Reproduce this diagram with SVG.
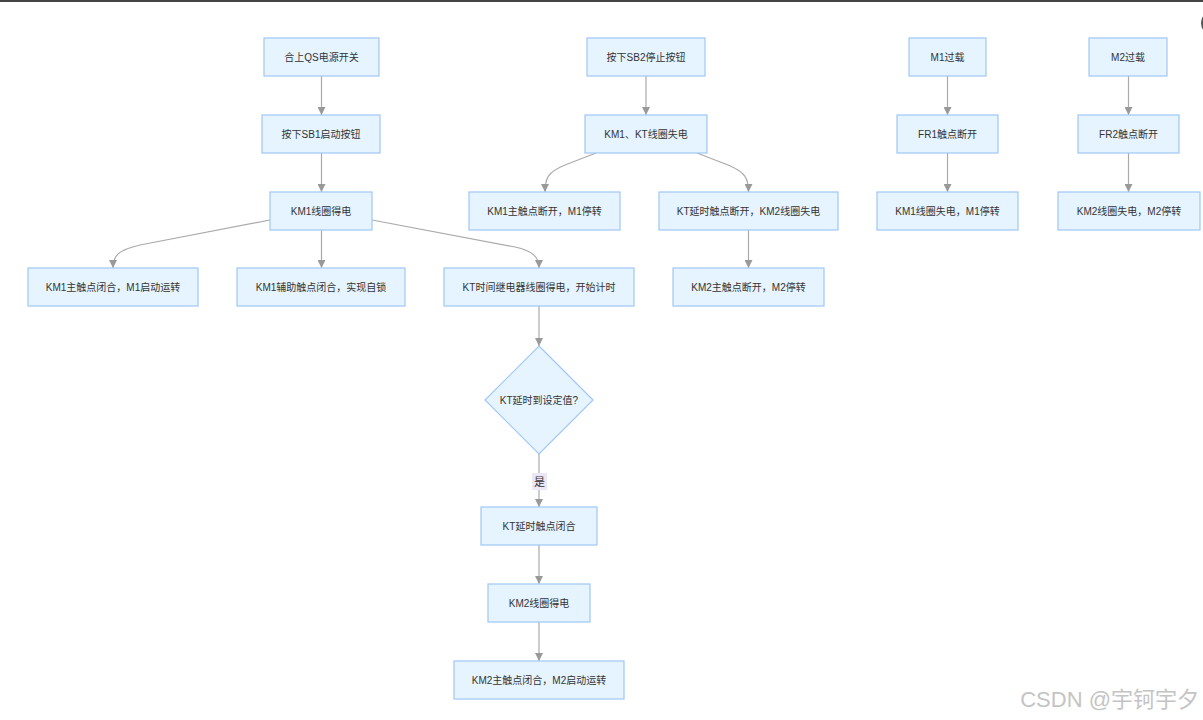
<svg xmlns="http://www.w3.org/2000/svg" width="1203" height="720" viewBox="0 0 1203 720">
<defs>
<marker id="arr" viewBox="0 0 10 10" refX="10" refY="5" markerWidth="8" markerHeight="8" markerUnits="userSpaceOnUse" orient="auto">
<path d="M0,0 L10,5 L0,10 z" fill="#999"/>
</marker>
<style>
.n rect, .n polygon { fill:#e6f4ff; stroke:#a0c6f7; stroke-width:1.2; }
.n text { font-family:"Liberation Sans","Noto Sans CJK SC",sans-serif; font-size:10px; fill:#333; text-anchor:middle; dominant-baseline:central; }
.e path { fill:none; stroke:#aaa; stroke-width:1.2; marker-end:url(#arr); }
.lbl text { font-family:"Liberation Sans","Noto Sans CJK SC",sans-serif; font-size:11px; fill:#333; text-anchor:middle; dominant-baseline:central; }
</style>
</defs>
<rect x="0" y="0" width="1203" height="720" fill="#fff"/>
<line x1="0" y1="1" x2="1203" y2="1" stroke="#444" stroke-width="2"/>
<circle cx="1213" cy="23" r="12" fill="#555"/>

<g id="connectors" class="e">
<path d="M321.5,76 L321.5,115"/>
<path d="M321.5,153 L321.5,192"/>
<path d="M321.5,230 L321.5,268"/>
<path d="M270,220 L140,245 C118,250 113,256 113,268"/>
<path d="M372,220 L515,247 C533,251 539,257 539,268"/>
<path d="M539,306 L539,346"/>
<path d="M539,454 L539,507"/>
<path d="M539,545 L539,584"/>
<path d="M539,622 L539,661"/>
<path d="M646,76 L646,115"/>
<path d="M596,153 L565,165 C548,172 545,178 545,192"/>
<path d="M697,153 L728,165 C745,172 748.5,178 748.5,192"/>
<path d="M748.5,230 L748.5,268"/>
<path d="M947.5,76 L947.5,115"/>
<path d="M947.5,153 L947.5,192"/>
<path d="M1128.5,76 L1128.5,115"/>
<path d="M1128.5,153 L1128.5,192"/>
</g>
<g id="label-yes" class="lbl">
<rect x="532" y="473" width="15" height="17" fill="#ede6f5"/>
<text x="539.5" y="481.5">是</text>
</g>

<g id="n1" class="n"><rect x="264" y="38" width="115" height="38"/><text x="321.5" y="57">合上QS电源开关</text></g>
<g id="n2" class="n"><rect x="262" y="115" width="118" height="38"/><text x="321" y="134">按下SB1启动按钮</text></g>
<g id="n3" class="n"><rect x="270" y="192" width="102" height="38"/><text x="321" y="211">KM1线圈得电</text></g>
<g id="n4" class="n"><rect x="28" y="268" width="170" height="38"/><text x="113" y="287">KM1主触点闭合，M1启动运转</text></g>
<g id="n5" class="n"><rect x="237" y="268" width="168" height="38"/><text x="321" y="287">KM1辅助触点闭合，实现自锁</text></g>
<g id="n6" class="n"><rect x="444" y="268" width="190" height="38"/><text x="539" y="287">KT时间继电器线圈得电，开始计时</text></g>
<g id="n7" class="n"><polygon points="539,346 593,400 539,454 485,400"/><text x="539" y="400">KT延时到设定值?</text></g>
<g id="n8" class="n"><rect x="481" y="507" width="116" height="38"/><text x="539" y="526">KT延时触点闭合</text></g>
<g id="n9" class="n"><rect x="488" y="584" width="102" height="38"/><text x="539" y="603">KM2线圈得电</text></g>
<g id="n10" class="n"><rect x="454" y="661" width="170" height="38"/><text x="539" y="680">KM2主触点闭合，M2启动运转</text></g>
<g id="n11" class="n"><rect x="587" y="38" width="118" height="38"/><text x="646" y="57">按下SB2停止按钮</text></g>
<g id="n12" class="n"><rect x="585" y="115" width="122" height="38"/><text x="646" y="134">KM1、KT线圈失电</text></g>
<g id="n13" class="n"><rect x="469" y="192" width="151" height="38"/><text x="544.5" y="211">KM1主触点断开，M1停转</text></g>
<g id="n14" class="n"><rect x="659" y="192" width="179" height="38"/><text x="748.5" y="211">KT延时触点断开，KM2线圈失电</text></g>
<g id="n15" class="n"><rect x="673" y="268" width="151" height="38"/><text x="748.5" y="287">KM2主触点断开，M2停转</text></g>
<g id="n16" class="n"><rect x="909" y="38" width="77" height="38"/><text x="947.5" y="57">M1过载</text></g>
<g id="n17" class="n"><rect x="897" y="115" width="101" height="38"/><text x="947.5" y="134">FR1触点断开</text></g>
<g id="n18" class="n"><rect x="877" y="192" width="141" height="38"/><text x="947.5" y="211">KM1线圈失电，M1停转</text></g>
<g id="n19" class="n"><rect x="1089" y="38" width="78" height="38"/><text x="1128" y="57">M2过载</text></g>
<g id="n20" class="n"><rect x="1078" y="115" width="101" height="38"/><text x="1128.5" y="134">FR2触点断开</text></g>
<g id="n21" class="n"><rect x="1058" y="192" width="142" height="38"/><text x="1129" y="211">KM2线圈失电，M2停转</text></g>

<text x="1199" y="707" text-anchor="end" font-family="Liberation Sans,'Noto Sans CJK SC',sans-serif" font-size="22" fill="#c4c4c4">CSDN @宇钶宇夕</text>
</svg>
